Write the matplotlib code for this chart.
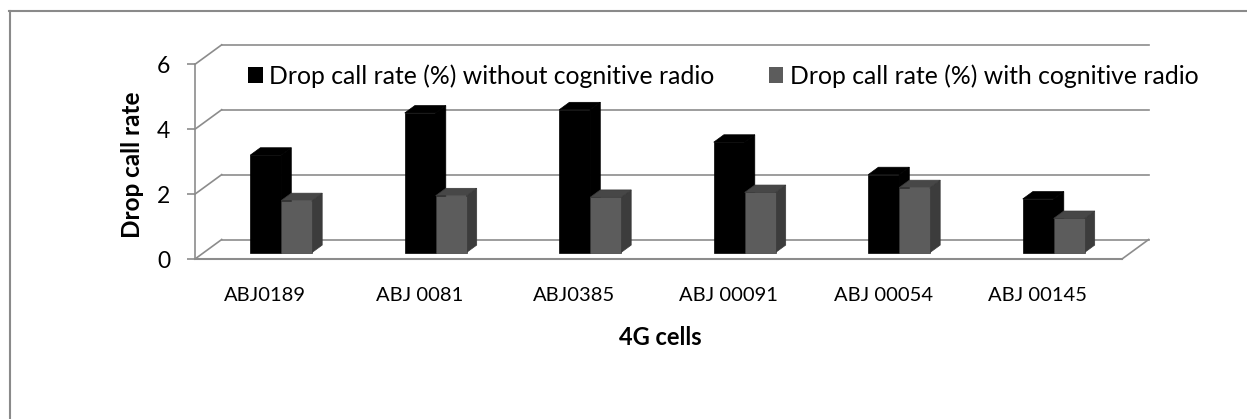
import numpy as np
import matplotlib
matplotlib.use("Agg")
import matplotlib.pyplot as plt
from matplotlib.patches import Polygon, Patch
from matplotlib.lines import Line2D

plt.rcParams['font.family'] = ['Lato', 'DejaVu Sans']

categories = ["ABJ0189", "ABJ 0081", "ABJ0385", "ABJ 00091", "ABJ 00054", "ABJ 00145"]
without_cr = [3.0, 4.3, 4.4, 3.4, 2.4, 1.65]
with_cr = [1.6, 1.75, 1.7, 1.85, 2.0, 1.05]
series_names = ["Drop call rate (%) without cognitive radio",
                "Drop call rate (%) with cognitive radio"]
yticks = [0, 2, 4, 6]

W, H = 1247, 419
fig = plt.figure(figsize=(W / 100, H / 100), dpi=100)

# front plane of the plot in pixels
x_left, x_right = 195, 1122
y_zero, y_top = 259, 64.3
ax = fig.add_axes([x_left / W, (H - y_zero) / H, (x_right - x_left) / W, (y_zero - y_top) / H])
ncat = len(categories)
ax.set_xlim(0, ncat)
ax.set_ylim(0, 6)

px_x = (x_right - x_left) / ncat
px_y = (y_zero - y_top) / 6
DXU = 26.7 / px_x   # depth offset in data units (x)
DYU = 19.5 / px_y   # depth offset in data units (y)

def P(x, y, d):
    return (x + d * DXU, y + d * DYU)

grid_c = '#8c8c8c'
glw = 1.2
# back wall gridlines + left wall diagonals
for v in yticks:
    ax.plot(*zip(P(0, v, 1), P(ncat, v, 1)), color=grid_c, lw=glw, clip_on=False, zorder=1)
    ax.plot(*zip(P(0, v, 0), P(0, v, 1)), color=grid_c, lw=glw, clip_on=False, zorder=1)
# floor right edge
ax.plot(*zip(P(ncat, 0, 0), P(ncat, 0, 1)), color=grid_c, lw=glw, clip_on=False, zorder=1)

# bars
d0, d1 = 1 / 3, 1 / 3 + 0.38
bw = 0.2
styles = [dict(front='#000000', top='#000000', side='#000000', edge='#000000'),
          dict(front='#5c5c5c', top='#474747', side='#3c3c3c', edge='#3a3a3a')]
for i in range(ncat):
    for s, vals in enumerate([without_cr, with_cr]):
        v = vals[i]
        x0 = i + 0.5 - bw + s * bw
        x1 = x0 + bw
        st = styles[s]
        z = 3 + i * 0.01 + s * 0.001
        side = [P(x1, 0, d0), P(x1, 0, d1), P(x1, v, d1), P(x1, v, d0)]
        top = [P(x0, v, d0), P(x0, v, d1), P(x1, v, d1), P(x1, v, d0)]
        front = [P(x0, 0, d0), P(x1, 0, d0), P(x1, v, d0), P(x0, v, d0)]
        for poly, col in [(side, st['side']), (top, st['top']), (front, st['front'])]:
            ax.add_patch(Polygon(poly, closed=True, facecolor=col, edgecolor=st['edge'],
                                 lw=0.5, clip_on=False, zorder=z))

# axes styling
for sp in ['top', 'right']:
    ax.spines[sp].set_visible(False)
ax.spines['left'].set_color(grid_c)
ax.spines['left'].set_linewidth(glw)
ax.spines['bottom'].set_color(grid_c)
ax.spines['bottom'].set_linewidth(1.5)
ax.set_yticks(yticks)
ax.set_yticklabels([str(t) for t in yticks], fontsize=16.5)
ax.tick_params(axis='y', direction='out', length=6, width=glw, color=grid_c, pad=12)
ax.set_xticks(np.arange(ncat) + 0.5 - 7 / px_x)
ax.set_xticklabels(categories, fontsize=14.5)
ax.tick_params(axis='x', length=0, pad=20)
ax.patch.set_visible(False)

fig.text(133 / W, 1 - 165 / H, "Drop call rate", rotation=90, fontsize=17.5,
         fontweight='bold', ha='center', va='center')
fig.text(660 / W, 1 - 337 / H, "4G cells", fontsize=17, fontweight='bold',
         ha='center', va='center')

handles = [Patch(facecolor=styles[0]['front'], edgecolor='none'),
           Patch(facecolor=styles[1]['front'], edgecolor='none')]
fig.legend(handles, series_names, loc='center', ncol=2,
           bbox_to_anchor=(723 / W, 1 - 76 / H), frameon=False, fontsize=17.8,
           handlelength=0.6, handleheight=0.6, handletextpad=0.25, columnspacing=2.2,
           borderpad=0, borderaxespad=0)

# outer border (left and top only visible)
fig.add_artist(Line2D([10 / W, 10 / W], [0, 1 - 11.5 / H], color='#8a8a8a', lw=1.5))
fig.add_artist(Line2D([9 / W, 1], [1 - 11.5 / H, 1 - 11.5 / H], color='#8a8a8a', lw=1.5))

fig.savefig("out.png", dpi=100)
